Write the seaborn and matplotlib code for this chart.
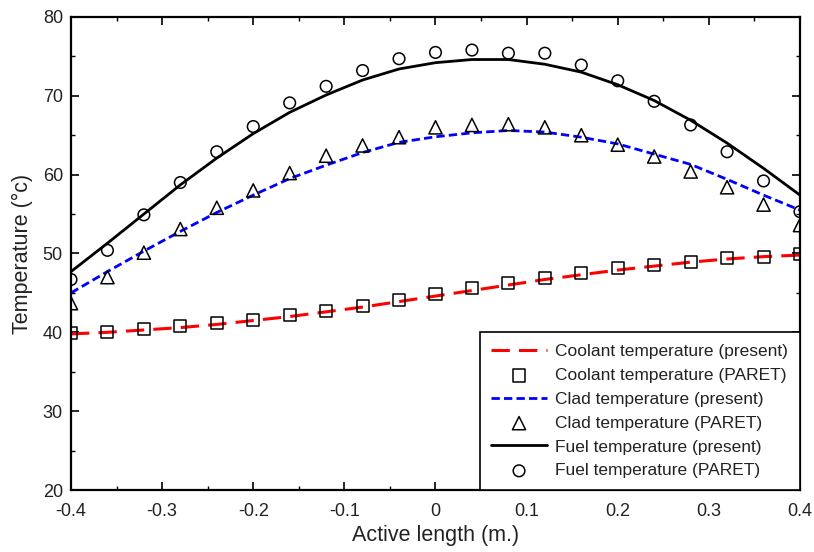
import numpy as np
import pandas as pd
import matplotlib
matplotlib.use("Agg")
import matplotlib.pyplot as plt
from matplotlib.ticker import MultipleLocator, FuncFormatter
import seaborn as sns

x = [-0.40, -0.36, -0.32, -0.28, -0.24, -0.20, -0.16, -0.12, -0.08, -0.04, 0.00,
     0.04, 0.08, 0.12, 0.16, 0.20, 0.24, 0.28, 0.32, 0.36, 0.40]

coolant_present = [39.8, 40.0, 40.3, 40.6, 41.0, 41.5, 42.0, 42.6, 43.2, 43.9, 44.6,
                   45.3, 46.0, 46.7, 47.3, 47.9, 48.4, 48.9, 49.3, 49.6, 49.8]
coolant_paret = [39.9, 40.1, 40.4, 40.8, 41.2, 41.6, 42.2, 42.7, 43.4, 44.1, 44.8,
                 45.6, 46.2, 46.9, 47.5, 48.1, 48.5, 48.95, 49.4, 49.6, 49.9]

clad_present = [45.0, 47.7, 50.3, 52.8, 55.2, 57.4, 59.5, 61.2, 62.8, 64.1, 64.8,
                65.3, 65.6, 65.4, 64.75, 63.9, 62.6, 61.3, 59.4, 57.4, 55.5]
clad_paret = [43.7, 47.0, 50.1, 53.1, 55.8, 58.0, 60.2, 62.4, 63.7, 64.75, 66.0,
              66.3, 66.4, 66.0, 65.0, 63.8, 62.3, 60.4, 58.4, 56.2, 53.6]

fuel_present = [47.7, 51.3, 55.0, 58.7, 62.1, 65.2, 67.9, 70.1, 72.0, 73.4, 74.2,
                74.6, 74.6, 74.0, 73.0, 71.4, 69.4, 66.9, 64.0, 60.8, 57.4]
fuel_paret = [46.7, 50.4, 54.9, 59.0, 62.9, 66.1, 69.1, 71.2, 73.2, 74.7, 75.5,
              75.8, 75.4, 75.4, 73.9, 71.9, 69.3, 66.3, 62.9, 59.2, 55.3]

labels = ["Coolant temperature (present)", "Coolant temperature (PARET)",
          "Clad temperature (present)", "Clad temperature (PARET)",
          "Fuel temperature (present)", "Fuel temperature (PARET)"]

sns.set_theme(style="white")
plt.rcParams['font.family'] = ['Liberation Sans', 'DejaVu Sans']
plt.rcParams['axes.unicode_minus'] = False

df = pd.DataFrame({"x": x,
                   "coolant_present": coolant_present, "coolant_paret": coolant_paret,
                   "clad_present": clad_present, "clad_paret": clad_paret,
                   "fuel_present": fuel_present, "fuel_paret": fuel_paret})

fig = plt.figure(figsize=(8.14, 5.52), dpi=100)
ax = fig.add_axes([0.0872, 0.1123, 0.8956, 0.857])

sns.lineplot(data=df, x="x", y="coolant_present", ax=ax, color="#ff0000", lw=2.2,
             linestyle=(0, (6, 3)), label=labels[0])
sns.scatterplot(data=df, x="x", y="coolant_paret", ax=ax, marker="s", s=75,
                facecolor="none", edgecolor="black", linewidth=1.1, label=labels[1], zorder=3)
sns.lineplot(data=df, x="x", y="clad_present", ax=ax, color="#0000ff", lw=2.0,
             linestyle=(0, (3, 1.5)), label=labels[2])
sns.scatterplot(data=df, x="x", y="clad_paret", ax=ax, marker="^", s=90,
                facecolor="none", edgecolor="black", linewidth=1.1, label=labels[3], zorder=3)
sns.lineplot(data=df, x="x", y="fuel_present", ax=ax, color="black", lw=2.0,
             linestyle="-", label=labels[4])
sns.scatterplot(data=df, x="x", y="fuel_paret", ax=ax, marker="o", s=70,
                facecolor="none", edgecolor="black", linewidth=1.1, label=labels[5], zorder=3)

ax.set_xlim(-0.4, 0.4)
ax.set_ylim(20, 80)
ax.xaxis.set_major_locator(MultipleLocator(0.1))
ax.xaxis.set_minor_locator(MultipleLocator(0.05))
ax.yaxis.set_major_locator(MultipleLocator(10))
ax.yaxis.set_minor_locator(MultipleLocator(5))
ax.xaxis.set_major_formatter(FuncFormatter(lambda v, p: "{:g}".format(round(v, 2))))
ax.tick_params(which="both", direction="in", top=True, right=True, bottom=True, left=True,
               colors="black", labelsize=13, labelcolor="#222222")
ax.tick_params(which="major", length=5.5, width=1.2)
ax.tick_params(which="minor", length=3, width=1.0)
ax.tick_params(axis="x", pad=9)
ax.tick_params(axis="y", pad=5.8)
for sp in ax.spines.values():
    sp.set_color("black")
    sp.set_linewidth(1.6)
ax.set_xlabel("Active length (m.)", fontsize=15.5, color="#222222", labelpad=4)
ax.set_ylabel("Temperature (°c)", fontsize=15.5, color="#222222", labelpad=7)

handles, labs = ax.get_legend_handles_labels()
leg = ax.legend(handles, labs, loc="lower right", bbox_to_anchor=(1.0, 0.0),
                borderaxespad=0.0, fontsize=12.5, frameon=True, fancybox=False,
                framealpha=1.0, edgecolor="black", handlelength=3.2,
                handletextpad=0.5, labelspacing=0.5, borderpad=0.67)
leg.get_frame().set_linewidth(1.2)
for t in leg.get_texts():
    t.set_color("#222222")

fig.savefig("out.png", dpi=100)
